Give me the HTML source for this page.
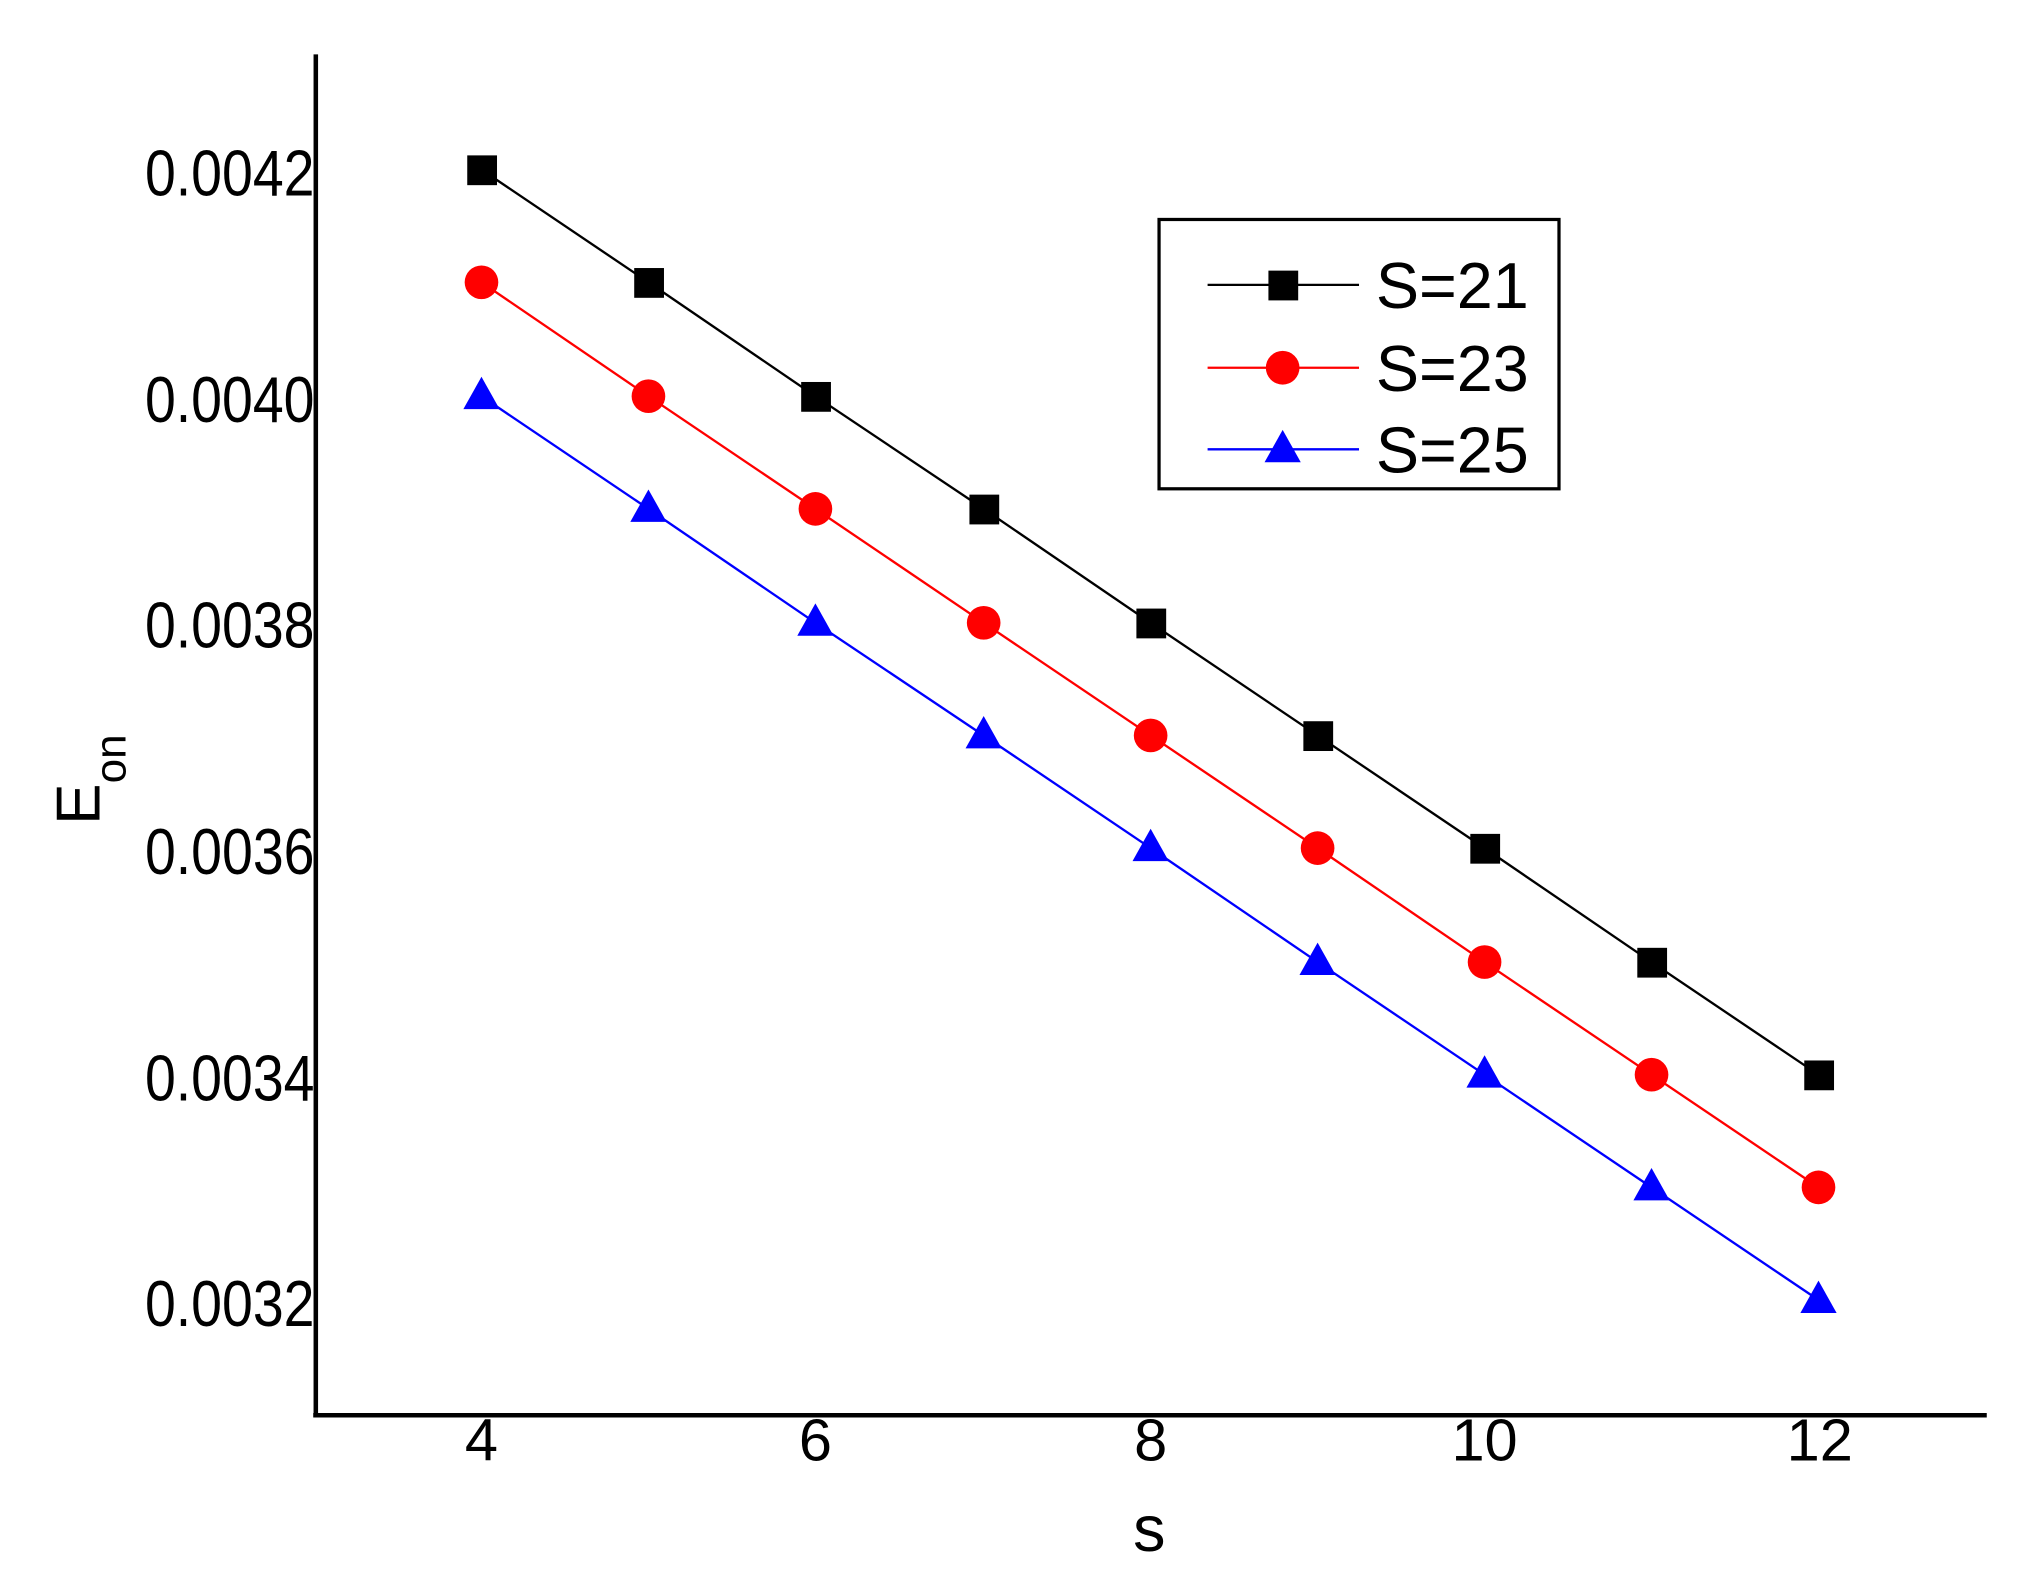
<!DOCTYPE html>
<html><head><meta charset="utf-8"><style>html,body{margin:0;padding:0;background:#fff}svg{display:block}</style></head><body>
<svg width="2023" height="1581" viewBox="0 0 1563 1221" preserveAspectRatio="none" xmlns="http://www.w3.org/2000/svg" font-family="Liberation Sans, Arial, sans-serif">
<rect width="1563" height="1221" fill="#fff"/>
<line x1="244" y1="42" x2="244" y2="1094" stroke="#000" stroke-width="3.5"/>
<line x1="242" y1="1093" x2="1535" y2="1093" stroke="#000" stroke-width="3.5"/>
<g font-size="50" text-anchor="end">
<text x="243" y="151" textLength="131" lengthAdjust="spacingAndGlyphs">0.0042</text>
<text x="243" y="326" textLength="131" lengthAdjust="spacingAndGlyphs">0.0040</text>
<text x="243" y="500" textLength="131" lengthAdjust="spacingAndGlyphs">0.0038</text>
<text x="243" y="675" textLength="131" lengthAdjust="spacingAndGlyphs">0.0036</text>
<text x="243" y="850" textLength="131" lengthAdjust="spacingAndGlyphs">0.0034</text>
<text x="243" y="1024" textLength="131" lengthAdjust="spacingAndGlyphs">0.0032</text>
</g>
<g font-size="46" text-anchor="middle">
<text x="372" y="1128">4</text><text x="630" y="1128">6</text><text x="889" y="1128">8</text><text x="1147" y="1128">10</text><text x="1406" y="1128">12</text>
</g>
<text x="888" y="1198" font-size="50" text-anchor="middle">s</text>
<g transform="translate(77,637) rotate(-90)"><text x="0" y="0" font-size="48">E<tspan font-size="34" dy="20">on</tspan></text></g>
<polyline fill="none" stroke="#000" stroke-width="1.8" points="372,131 501,218 630,306 760,393 889,481 1018,568 1147,655 1276,743 1405,830"/>
<polyline fill="none" stroke="#f00" stroke-width="1.8" points="372,218 501,306 630,393 760,481 889,568 1018,655 1147,743 1276,830 1405,917"/>
<polyline fill="none" stroke="#00f" stroke-width="1.8" points="372,306 501,393 630,481 760,568 889,655 1018,743 1147,830 1276,917 1405,1004"/>
<g fill="#000">
<rect x="361" y="120" width="23" height="23"/><rect x="490" y="207" width="23" height="23"/><rect x="619" y="295" width="23" height="23"/><rect x="749" y="382" width="23" height="23"/><rect x="878" y="470" width="23" height="23"/><rect x="1007" y="557" width="23" height="23"/><rect x="1136" y="644" width="23" height="23"/><rect x="1265" y="732" width="23" height="23"/><rect x="1394" y="819" width="23" height="23"/>
</g>
<g fill="#f00">
<circle cx="372" cy="218" r="13"/><circle cx="501" cy="306" r="13"/><circle cx="630" cy="393" r="13"/><circle cx="760" cy="481" r="13"/><circle cx="889" cy="568" r="13"/><circle cx="1018" cy="655" r="13"/><circle cx="1147" cy="743" r="13"/><circle cx="1276" cy="830" r="13"/><circle cx="1405" cy="917" r="13"/>
</g>
<g fill="#00f">
<polygon points="372,291 358,316 386,316"/><polygon points="501,378 487,403 515,403"/><polygon points="630,466 616,491 644,491"/><polygon points="760,553 746,578 774,578"/><polygon points="889,640 875,665 903,665"/><polygon points="1018,728 1004,753 1032,753"/><polygon points="1147,815 1133,840 1161,840"/><polygon points="1276,902 1262,927 1290,927"/><polygon points="1405,989 1391,1014 1419,1014"/>
</g>
<rect x="895.5" y="169.5" width="309" height="208" fill="none" stroke="#000" stroke-width="2.5"/>
<line x1="933" y1="220" x2="1050" y2="220" stroke="#000" stroke-width="1.8"/>
<rect x="980" y="209" width="23" height="23" fill="#000"/>
<line x1="933" y1="284" x2="1050" y2="284" stroke="#f00" stroke-width="1.8"/>
<circle cx="991" cy="284" r="13" fill="#f00"/>
<line x1="933" y1="347" x2="1050" y2="347" stroke="#00f" stroke-width="1.8"/>
<polygon points="991,332 977,357 1005,357" fill="#00f"/>
<g font-size="50">
<text x="1063" y="238">S=21</text><text x="1063" y="302">S=23</text><text x="1063" y="365">S=25</text>
</g>
</svg>
</body></html>
